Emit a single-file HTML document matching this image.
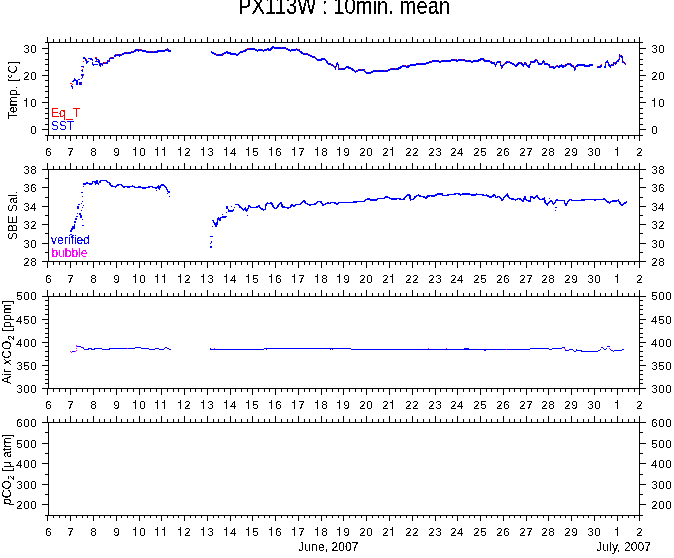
<!DOCTYPE html>
<html><head><meta charset="utf-8"><title>PX113W : 10min. mean</title>
<style>
html,body{margin:0;padding:0;background:#fff}
body{width:674px;height:558px;position:relative;overflow:hidden;font-family:"Liberation Sans",sans-serif;font-size:12px;color:#000}
i{position:absolute;display:block;background:#000}
span{position:absolute;white-space:nowrap;line-height:14px;height:14px}
span.n{font-size:11.5px;letter-spacing:.6px}
span.mo{letter-spacing:.1px}
span.n b{display:inline-block;width:7px;height:9px;vertical-align:baseline;background:linear-gradient(#000,#000) 3px 0/1px 9px no-repeat,linear-gradient(#000,#000) 1px 2px/2px 1px no-repeat}
span.tt{line-height:22px;height:22px;transform:scaleX(.88);transform-origin:0 0}
span.yl{width:200px;letter-spacing:.2px;text-align:center;line-height:16px;height:16px;transform:rotate(-90deg)}
em{font-style:italic}
sub{font-size:9px;vertical-align:-3px;line-height:0}
svg{position:absolute;left:0;top:0}
#tx{position:absolute;left:0;top:0;width:674px;height:558px;filter:url(#t)}
</style></head><body>
<svg width="0" height="0" style="position:absolute"><filter id="t" x="0" y="0" width="100%" height="100%" color-interpolation-filters="sRGB"><feComponentTransfer><feFuncA type="discrete" tableValues="0 0 0 0 0 0 0 0 0 1 1 1 1 1 1 1 1 1 1 1"/></feComponentTransfer></filter></svg>
<div id="tx"><span class="n" style="left:45.25px;top:145px">6</span><span class="n" style="left:67.25px;top:145px">7</span><span class="n" style="left:90.25px;top:145px">8</span><span class="n" style="left:113.25px;top:145px">9</span><span class="n" style="left:132.25px;top:145px"><b></b>0</span><span class="n" style="left:154.25px;top:145px"><b></b><b></b></span><span class="n" style="left:177.25px;top:145px"><b></b>2</span><span class="n" style="left:200.25px;top:145px"><b></b>3</span><span class="n" style="left:223.25px;top:145px"><b></b>4</span><span class="n" style="left:245.25px;top:145px"><b></b>5</span><span class="n" style="left:268.25px;top:145px"><b></b>6</span><span class="n" style="left:291.25px;top:145px"><b></b>7</span><span class="n" style="left:314.25px;top:145px"><b></b>8</span><span class="n" style="left:336.25px;top:145px"><b></b>9</span><span class="n" style="left:359.25px;top:145px">20</span><span class="n" style="left:382.25px;top:145px">2<b></b></span><span class="n" style="left:405.25px;top:145px">22</span><span class="n" style="left:428.25px;top:145px">23</span><span class="n" style="left:450.25px;top:145px">24</span><span class="n" style="left:473.25px;top:145px">25</span><span class="n" style="left:496.25px;top:145px">26</span><span class="n" style="left:519.25px;top:145px">27</span><span class="n" style="left:541.25px;top:145px">28</span><span class="n" style="left:564.25px;top:145px">29</span><span class="n" style="left:587.25px;top:145px">30</span><span class="n" style="left:614.25px;top:145px"><b></b></span><span class="n" style="left:636.25px;top:145px">2</span><span class="n" style="left:23.25px;top:42px">30</span><span class="n" style="left:651.25px;top:42px">30</span><span class="n" style="left:23.25px;top:69px">20</span><span class="n" style="left:651.25px;top:69px">20</span><span class="n" style="left:23.25px;top:96px"><b></b>0</span><span class="n" style="left:651.25px;top:96px"><b></b>0</span><span class="n" style="left:30.25px;top:123px">0</span><span class="n" style="left:651.25px;top:123px">0</span><span class="yl" style="left:-87.6px;top:82.5px;letter-spacing:0.2px;padding-left:1.75px">Temp. [&deg;C]</span><span class="n" style="left:45.25px;top:272px">6</span><span class="n" style="left:67.25px;top:272px">7</span><span class="n" style="left:90.25px;top:272px">8</span><span class="n" style="left:113.25px;top:272px">9</span><span class="n" style="left:132.25px;top:272px"><b></b>0</span><span class="n" style="left:154.25px;top:272px"><b></b><b></b></span><span class="n" style="left:177.25px;top:272px"><b></b>2</span><span class="n" style="left:200.25px;top:272px"><b></b>3</span><span class="n" style="left:223.25px;top:272px"><b></b>4</span><span class="n" style="left:245.25px;top:272px"><b></b>5</span><span class="n" style="left:268.25px;top:272px"><b></b>6</span><span class="n" style="left:291.25px;top:272px"><b></b>7</span><span class="n" style="left:314.25px;top:272px"><b></b>8</span><span class="n" style="left:336.25px;top:272px"><b></b>9</span><span class="n" style="left:359.25px;top:272px">20</span><span class="n" style="left:382.25px;top:272px">2<b></b></span><span class="n" style="left:405.25px;top:272px">22</span><span class="n" style="left:428.25px;top:272px">23</span><span class="n" style="left:450.25px;top:272px">24</span><span class="n" style="left:473.25px;top:272px">25</span><span class="n" style="left:496.25px;top:272px">26</span><span class="n" style="left:519.25px;top:272px">27</span><span class="n" style="left:541.25px;top:272px">28</span><span class="n" style="left:564.25px;top:272px">29</span><span class="n" style="left:587.25px;top:272px">30</span><span class="n" style="left:614.25px;top:272px"><b></b></span><span class="n" style="left:636.25px;top:272px">2</span><span class="n" style="left:23.25px;top:163px">38</span><span class="n" style="left:651.25px;top:163px">38</span><span class="n" style="left:23.25px;top:181px">36</span><span class="n" style="left:651.25px;top:181px">36</span><span class="n" style="left:23.25px;top:200px">34</span><span class="n" style="left:651.25px;top:200px">34</span><span class="n" style="left:23.25px;top:218px">32</span><span class="n" style="left:651.25px;top:218px">32</span><span class="n" style="left:23.25px;top:237px">30</span><span class="n" style="left:651.25px;top:237px">30</span><span class="n" style="left:23.25px;top:255px">28</span><span class="n" style="left:651.25px;top:255px">28</span><span class="yl" style="left:-87.6px;top:208.2px;letter-spacing:0.2px;padding-left:1.5px">SBE Sal.</span><span class="n" style="left:45.25px;top:398px">6</span><span class="n" style="left:67.25px;top:398px">7</span><span class="n" style="left:90.25px;top:398px">8</span><span class="n" style="left:113.25px;top:398px">9</span><span class="n" style="left:132.25px;top:398px"><b></b>0</span><span class="n" style="left:154.25px;top:398px"><b></b><b></b></span><span class="n" style="left:177.25px;top:398px"><b></b>2</span><span class="n" style="left:200.25px;top:398px"><b></b>3</span><span class="n" style="left:223.25px;top:398px"><b></b>4</span><span class="n" style="left:245.25px;top:398px"><b></b>5</span><span class="n" style="left:268.25px;top:398px"><b></b>6</span><span class="n" style="left:291.25px;top:398px"><b></b>7</span><span class="n" style="left:314.25px;top:398px"><b></b>8</span><span class="n" style="left:336.25px;top:398px"><b></b>9</span><span class="n" style="left:359.25px;top:398px">20</span><span class="n" style="left:382.25px;top:398px">2<b></b></span><span class="n" style="left:405.25px;top:398px">22</span><span class="n" style="left:428.25px;top:398px">23</span><span class="n" style="left:450.25px;top:398px">24</span><span class="n" style="left:473.25px;top:398px">25</span><span class="n" style="left:496.25px;top:398px">26</span><span class="n" style="left:519.25px;top:398px">27</span><span class="n" style="left:541.25px;top:398px">28</span><span class="n" style="left:564.25px;top:398px">29</span><span class="n" style="left:587.25px;top:398px">30</span><span class="n" style="left:614.25px;top:398px"><b></b></span><span class="n" style="left:636.25px;top:398px">2</span><span class="n" style="left:16.25px;top:289px">500</span><span class="n" style="left:651.25px;top:289px">500</span><span class="n" style="left:16.25px;top:313px">450</span><span class="n" style="left:651.25px;top:313px">450</span><span class="n" style="left:16.25px;top:336px">400</span><span class="n" style="left:651.25px;top:336px">400</span><span class="n" style="left:16.25px;top:359px">350</span><span class="n" style="left:651.25px;top:359px">350</span><span class="n" style="left:16.25px;top:382px">300</span><span class="n" style="left:651.25px;top:382px">300</span><span class="yl" style="left:-93.8px;top:335.4px;letter-spacing:0.25px;padding-left:1.75px">Air <em>x</em>CO<sub>2</sub> [ppm]</span><span class="n" style="left:45.25px;top:525px">6</span><span class="n" style="left:67.25px;top:525px">7</span><span class="n" style="left:90.25px;top:525px">8</span><span class="n" style="left:113.25px;top:525px">9</span><span class="n" style="left:132.25px;top:525px"><b></b>0</span><span class="n" style="left:154.25px;top:525px"><b></b><b></b></span><span class="n" style="left:177.25px;top:525px"><b></b>2</span><span class="n" style="left:200.25px;top:525px"><b></b>3</span><span class="n" style="left:223.25px;top:525px"><b></b>4</span><span class="n" style="left:245.25px;top:525px"><b></b>5</span><span class="n" style="left:268.25px;top:525px"><b></b>6</span><span class="n" style="left:291.25px;top:525px"><b></b>7</span><span class="n" style="left:314.25px;top:525px"><b></b>8</span><span class="n" style="left:336.25px;top:525px"><b></b>9</span><span class="n" style="left:359.25px;top:525px">20</span><span class="n" style="left:382.25px;top:525px">2<b></b></span><span class="n" style="left:405.25px;top:525px">22</span><span class="n" style="left:428.25px;top:525px">23</span><span class="n" style="left:450.25px;top:525px">24</span><span class="n" style="left:473.25px;top:525px">25</span><span class="n" style="left:496.25px;top:525px">26</span><span class="n" style="left:519.25px;top:525px">27</span><span class="n" style="left:541.25px;top:525px">28</span><span class="n" style="left:564.25px;top:525px">29</span><span class="n" style="left:587.25px;top:525px">30</span><span class="n" style="left:614.25px;top:525px"><b></b></span><span class="n" style="left:636.25px;top:525px">2</span><span class="n" style="left:16.25px;top:416px">600</span><span class="n" style="left:651.25px;top:416px">600</span><span class="n" style="left:16.25px;top:437px">500</span><span class="n" style="left:651.25px;top:437px">500</span><span class="n" style="left:16.25px;top:457px">400</span><span class="n" style="left:651.25px;top:457px">400</span><span class="n" style="left:16.25px;top:478px">300</span><span class="n" style="left:651.25px;top:478px">300</span><span class="n" style="left:16.25px;top:498px">200</span><span class="n" style="left:651.25px;top:498px">200</span><span class="yl" style="left:-93.8px;top:461.6px;letter-spacing:0.1px;padding-left:1.0px"><em>p</em>CO<sub>2</sub> [&mu; atm]</span><span class="tt" style="left:237.6px;font-size:23px;top:-5px">PX113W : 10min. mean</span><span class="mo" style="left:298.25px;top:540px">June, 2007</span><span class="mo" style="left:596.25px;top:540px">July, 2007</span><span style="left:51.05px;color:#f00;top:106px">Eq_T</span><span style="left:51.05px;color:#00f;top:119px">SST</span><span style="left:51.05px;color:#00f;top:233px">verified</span><span style="left:51.5px;color:#f0f;top:246px">bubble</span></div>
<i style="left:48px;top:42px;width:592px;height:1px"></i><i style="left:48px;top:135px;width:592px;height:1px"></i><i style="left:48px;top:42px;width:1px;height:94px"></i><i style="left:639px;top:42px;width:1px;height:94px"></i><i style="left:47px;top:37px;width:1px;height:5px"></i><i style="left:47px;top:136px;width:1px;height:5px"></i><i style="left:53px;top:39px;width:1px;height:3px"></i><i style="left:53px;top:136px;width:1px;height:3px"></i><i style="left:59px;top:39px;width:1px;height:3px"></i><i style="left:59px;top:136px;width:1px;height:3px"></i><i style="left:65px;top:39px;width:1px;height:3px"></i><i style="left:65px;top:136px;width:1px;height:3px"></i><i style="left:70px;top:37px;width:1px;height:5px"></i><i style="left:70px;top:136px;width:1px;height:5px"></i><i style="left:76px;top:39px;width:1px;height:3px"></i><i style="left:76px;top:136px;width:1px;height:3px"></i><i style="left:82px;top:39px;width:1px;height:3px"></i><i style="left:82px;top:136px;width:1px;height:3px"></i><i style="left:87px;top:39px;width:1px;height:3px"></i><i style="left:87px;top:136px;width:1px;height:3px"></i><i style="left:93px;top:37px;width:1px;height:5px"></i><i style="left:93px;top:136px;width:1px;height:5px"></i><i style="left:99px;top:39px;width:1px;height:3px"></i><i style="left:99px;top:136px;width:1px;height:3px"></i><i style="left:104px;top:39px;width:1px;height:3px"></i><i style="left:104px;top:136px;width:1px;height:3px"></i><i style="left:110px;top:39px;width:1px;height:3px"></i><i style="left:110px;top:136px;width:1px;height:3px"></i><i style="left:116px;top:37px;width:1px;height:5px"></i><i style="left:116px;top:136px;width:1px;height:5px"></i><i style="left:121px;top:39px;width:1px;height:3px"></i><i style="left:121px;top:136px;width:1px;height:3px"></i><i style="left:127px;top:39px;width:1px;height:3px"></i><i style="left:127px;top:136px;width:1px;height:3px"></i><i style="left:133px;top:39px;width:1px;height:3px"></i><i style="left:133px;top:136px;width:1px;height:3px"></i><i style="left:139px;top:37px;width:1px;height:5px"></i><i style="left:139px;top:136px;width:1px;height:5px"></i><i style="left:144px;top:39px;width:1px;height:3px"></i><i style="left:144px;top:136px;width:1px;height:3px"></i><i style="left:150px;top:39px;width:1px;height:3px"></i><i style="left:150px;top:136px;width:1px;height:3px"></i><i style="left:156px;top:39px;width:1px;height:3px"></i><i style="left:156px;top:136px;width:1px;height:3px"></i><i style="left:161px;top:37px;width:1px;height:5px"></i><i style="left:161px;top:136px;width:1px;height:5px"></i><i style="left:167px;top:39px;width:1px;height:3px"></i><i style="left:167px;top:136px;width:1px;height:3px"></i><i style="left:173px;top:39px;width:1px;height:3px"></i><i style="left:173px;top:136px;width:1px;height:3px"></i><i style="left:178px;top:39px;width:1px;height:3px"></i><i style="left:178px;top:136px;width:1px;height:3px"></i><i style="left:184px;top:37px;width:1px;height:5px"></i><i style="left:184px;top:136px;width:1px;height:5px"></i><i style="left:190px;top:39px;width:1px;height:3px"></i><i style="left:190px;top:136px;width:1px;height:3px"></i><i style="left:195px;top:39px;width:1px;height:3px"></i><i style="left:195px;top:136px;width:1px;height:3px"></i><i style="left:201px;top:39px;width:1px;height:3px"></i><i style="left:201px;top:136px;width:1px;height:3px"></i><i style="left:207px;top:37px;width:1px;height:5px"></i><i style="left:207px;top:136px;width:1px;height:5px"></i><i style="left:213px;top:39px;width:1px;height:3px"></i><i style="left:213px;top:136px;width:1px;height:3px"></i><i style="left:218px;top:39px;width:1px;height:3px"></i><i style="left:218px;top:136px;width:1px;height:3px"></i><i style="left:224px;top:39px;width:1px;height:3px"></i><i style="left:224px;top:136px;width:1px;height:3px"></i><i style="left:230px;top:37px;width:1px;height:5px"></i><i style="left:230px;top:136px;width:1px;height:5px"></i><i style="left:235px;top:39px;width:1px;height:3px"></i><i style="left:235px;top:136px;width:1px;height:3px"></i><i style="left:241px;top:39px;width:1px;height:3px"></i><i style="left:241px;top:136px;width:1px;height:3px"></i><i style="left:247px;top:39px;width:1px;height:3px"></i><i style="left:247px;top:136px;width:1px;height:3px"></i><i style="left:252px;top:37px;width:1px;height:5px"></i><i style="left:252px;top:136px;width:1px;height:5px"></i><i style="left:258px;top:39px;width:1px;height:3px"></i><i style="left:258px;top:136px;width:1px;height:3px"></i><i style="left:264px;top:39px;width:1px;height:3px"></i><i style="left:264px;top:136px;width:1px;height:3px"></i><i style="left:269px;top:39px;width:1px;height:3px"></i><i style="left:269px;top:136px;width:1px;height:3px"></i><i style="left:275px;top:37px;width:1px;height:5px"></i><i style="left:275px;top:136px;width:1px;height:5px"></i><i style="left:281px;top:39px;width:1px;height:3px"></i><i style="left:281px;top:136px;width:1px;height:3px"></i><i style="left:287px;top:39px;width:1px;height:3px"></i><i style="left:287px;top:136px;width:1px;height:3px"></i><i style="left:292px;top:39px;width:1px;height:3px"></i><i style="left:292px;top:136px;width:1px;height:3px"></i><i style="left:298px;top:37px;width:1px;height:5px"></i><i style="left:298px;top:136px;width:1px;height:5px"></i><i style="left:304px;top:39px;width:1px;height:3px"></i><i style="left:304px;top:136px;width:1px;height:3px"></i><i style="left:309px;top:39px;width:1px;height:3px"></i><i style="left:309px;top:136px;width:1px;height:3px"></i><i style="left:315px;top:39px;width:1px;height:3px"></i><i style="left:315px;top:136px;width:1px;height:3px"></i><i style="left:321px;top:37px;width:1px;height:5px"></i><i style="left:321px;top:136px;width:1px;height:5px"></i><i style="left:326px;top:39px;width:1px;height:3px"></i><i style="left:326px;top:136px;width:1px;height:3px"></i><i style="left:332px;top:39px;width:1px;height:3px"></i><i style="left:332px;top:136px;width:1px;height:3px"></i><i style="left:338px;top:39px;width:1px;height:3px"></i><i style="left:338px;top:136px;width:1px;height:3px"></i><i style="left:343px;top:37px;width:1px;height:5px"></i><i style="left:343px;top:136px;width:1px;height:5px"></i><i style="left:349px;top:39px;width:1px;height:3px"></i><i style="left:349px;top:136px;width:1px;height:3px"></i><i style="left:355px;top:39px;width:1px;height:3px"></i><i style="left:355px;top:136px;width:1px;height:3px"></i><i style="left:361px;top:39px;width:1px;height:3px"></i><i style="left:361px;top:136px;width:1px;height:3px"></i><i style="left:366px;top:37px;width:1px;height:5px"></i><i style="left:366px;top:136px;width:1px;height:5px"></i><i style="left:372px;top:39px;width:1px;height:3px"></i><i style="left:372px;top:136px;width:1px;height:3px"></i><i style="left:378px;top:39px;width:1px;height:3px"></i><i style="left:378px;top:136px;width:1px;height:3px"></i><i style="left:383px;top:39px;width:1px;height:3px"></i><i style="left:383px;top:136px;width:1px;height:3px"></i><i style="left:389px;top:37px;width:1px;height:5px"></i><i style="left:389px;top:136px;width:1px;height:5px"></i><i style="left:395px;top:39px;width:1px;height:3px"></i><i style="left:395px;top:136px;width:1px;height:3px"></i><i style="left:400px;top:39px;width:1px;height:3px"></i><i style="left:400px;top:136px;width:1px;height:3px"></i><i style="left:406px;top:39px;width:1px;height:3px"></i><i style="left:406px;top:136px;width:1px;height:3px"></i><i style="left:412px;top:37px;width:1px;height:5px"></i><i style="left:412px;top:136px;width:1px;height:5px"></i><i style="left:417px;top:39px;width:1px;height:3px"></i><i style="left:417px;top:136px;width:1px;height:3px"></i><i style="left:423px;top:39px;width:1px;height:3px"></i><i style="left:423px;top:136px;width:1px;height:3px"></i><i style="left:429px;top:39px;width:1px;height:3px"></i><i style="left:429px;top:136px;width:1px;height:3px"></i><i style="left:435px;top:37px;width:1px;height:5px"></i><i style="left:435px;top:136px;width:1px;height:5px"></i><i style="left:440px;top:39px;width:1px;height:3px"></i><i style="left:440px;top:136px;width:1px;height:3px"></i><i style="left:446px;top:39px;width:1px;height:3px"></i><i style="left:446px;top:136px;width:1px;height:3px"></i><i style="left:452px;top:39px;width:1px;height:3px"></i><i style="left:452px;top:136px;width:1px;height:3px"></i><i style="left:457px;top:37px;width:1px;height:5px"></i><i style="left:457px;top:136px;width:1px;height:5px"></i><i style="left:463px;top:39px;width:1px;height:3px"></i><i style="left:463px;top:136px;width:1px;height:3px"></i><i style="left:469px;top:39px;width:1px;height:3px"></i><i style="left:469px;top:136px;width:1px;height:3px"></i><i style="left:474px;top:39px;width:1px;height:3px"></i><i style="left:474px;top:136px;width:1px;height:3px"></i><i style="left:480px;top:37px;width:1px;height:5px"></i><i style="left:480px;top:136px;width:1px;height:5px"></i><i style="left:486px;top:39px;width:1px;height:3px"></i><i style="left:486px;top:136px;width:1px;height:3px"></i><i style="left:491px;top:39px;width:1px;height:3px"></i><i style="left:491px;top:136px;width:1px;height:3px"></i><i style="left:497px;top:39px;width:1px;height:3px"></i><i style="left:497px;top:136px;width:1px;height:3px"></i><i style="left:503px;top:37px;width:1px;height:5px"></i><i style="left:503px;top:136px;width:1px;height:5px"></i><i style="left:509px;top:39px;width:1px;height:3px"></i><i style="left:509px;top:136px;width:1px;height:3px"></i><i style="left:514px;top:39px;width:1px;height:3px"></i><i style="left:514px;top:136px;width:1px;height:3px"></i><i style="left:520px;top:39px;width:1px;height:3px"></i><i style="left:520px;top:136px;width:1px;height:3px"></i><i style="left:526px;top:37px;width:1px;height:5px"></i><i style="left:526px;top:136px;width:1px;height:5px"></i><i style="left:531px;top:39px;width:1px;height:3px"></i><i style="left:531px;top:136px;width:1px;height:3px"></i><i style="left:537px;top:39px;width:1px;height:3px"></i><i style="left:537px;top:136px;width:1px;height:3px"></i><i style="left:543px;top:39px;width:1px;height:3px"></i><i style="left:543px;top:136px;width:1px;height:3px"></i><i style="left:548px;top:37px;width:1px;height:5px"></i><i style="left:548px;top:136px;width:1px;height:5px"></i><i style="left:554px;top:39px;width:1px;height:3px"></i><i style="left:554px;top:136px;width:1px;height:3px"></i><i style="left:560px;top:39px;width:1px;height:3px"></i><i style="left:560px;top:136px;width:1px;height:3px"></i><i style="left:565px;top:39px;width:1px;height:3px"></i><i style="left:565px;top:136px;width:1px;height:3px"></i><i style="left:571px;top:37px;width:1px;height:5px"></i><i style="left:571px;top:136px;width:1px;height:5px"></i><i style="left:577px;top:39px;width:1px;height:3px"></i><i style="left:577px;top:136px;width:1px;height:3px"></i><i style="left:583px;top:39px;width:1px;height:3px"></i><i style="left:583px;top:136px;width:1px;height:3px"></i><i style="left:588px;top:39px;width:1px;height:3px"></i><i style="left:588px;top:136px;width:1px;height:3px"></i><i style="left:594px;top:37px;width:1px;height:5px"></i><i style="left:594px;top:136px;width:1px;height:5px"></i><i style="left:600px;top:39px;width:1px;height:3px"></i><i style="left:600px;top:136px;width:1px;height:3px"></i><i style="left:605px;top:39px;width:1px;height:3px"></i><i style="left:605px;top:136px;width:1px;height:3px"></i><i style="left:611px;top:39px;width:1px;height:3px"></i><i style="left:611px;top:136px;width:1px;height:3px"></i><i style="left:617px;top:37px;width:1px;height:5px"></i><i style="left:617px;top:136px;width:1px;height:5px"></i><i style="left:622px;top:39px;width:1px;height:3px"></i><i style="left:622px;top:136px;width:1px;height:3px"></i><i style="left:628px;top:39px;width:1px;height:3px"></i><i style="left:628px;top:136px;width:1px;height:3px"></i><i style="left:634px;top:39px;width:1px;height:3px"></i><i style="left:634px;top:136px;width:1px;height:3px"></i><i style="left:639px;top:37px;width:1px;height:5px"></i><i style="left:639px;top:136px;width:1px;height:5px"></i><i style="left:45px;top:42px;width:3px;height:1px"></i><i style="left:640px;top:42px;width:3px;height:1px"></i><i style="left:42px;top:48px;width:6px;height:1px"></i><i style="left:640px;top:48px;width:6px;height:1px"></i><i style="left:45px;top:53px;width:3px;height:1px"></i><i style="left:640px;top:53px;width:3px;height:1px"></i><i style="left:45px;top:59px;width:3px;height:1px"></i><i style="left:640px;top:59px;width:3px;height:1px"></i><i style="left:45px;top:64px;width:3px;height:1px"></i><i style="left:640px;top:64px;width:3px;height:1px"></i><i style="left:45px;top:70px;width:3px;height:1px"></i><i style="left:640px;top:70px;width:3px;height:1px"></i><i style="left:42px;top:75px;width:6px;height:1px"></i><i style="left:640px;top:75px;width:6px;height:1px"></i><i style="left:45px;top:80px;width:3px;height:1px"></i><i style="left:640px;top:80px;width:3px;height:1px"></i><i style="left:45px;top:86px;width:3px;height:1px"></i><i style="left:640px;top:86px;width:3px;height:1px"></i><i style="left:45px;top:91px;width:3px;height:1px"></i><i style="left:640px;top:91px;width:3px;height:1px"></i><i style="left:45px;top:97px;width:3px;height:1px"></i><i style="left:640px;top:97px;width:3px;height:1px"></i><i style="left:42px;top:102px;width:6px;height:1px"></i><i style="left:640px;top:102px;width:6px;height:1px"></i><i style="left:45px;top:108px;width:3px;height:1px"></i><i style="left:640px;top:108px;width:3px;height:1px"></i><i style="left:45px;top:113px;width:3px;height:1px"></i><i style="left:640px;top:113px;width:3px;height:1px"></i><i style="left:45px;top:118px;width:3px;height:1px"></i><i style="left:640px;top:118px;width:3px;height:1px"></i><i style="left:45px;top:124px;width:3px;height:1px"></i><i style="left:640px;top:124px;width:3px;height:1px"></i><i style="left:42px;top:129px;width:6px;height:1px"></i><i style="left:640px;top:129px;width:6px;height:1px"></i><i style="left:45px;top:135px;width:3px;height:1px"></i><i style="left:640px;top:135px;width:3px;height:1px"></i><i style="left:48px;top:169px;width:592px;height:1px"></i><i style="left:48px;top:261px;width:592px;height:1px"></i><i style="left:48px;top:169px;width:1px;height:93px"></i><i style="left:639px;top:169px;width:1px;height:93px"></i><i style="left:47px;top:163px;width:1px;height:6px"></i><i style="left:47px;top:262px;width:1px;height:6px"></i><i style="left:53px;top:166px;width:1px;height:3px"></i><i style="left:53px;top:262px;width:1px;height:3px"></i><i style="left:59px;top:166px;width:1px;height:3px"></i><i style="left:59px;top:262px;width:1px;height:3px"></i><i style="left:65px;top:166px;width:1px;height:3px"></i><i style="left:65px;top:262px;width:1px;height:3px"></i><i style="left:70px;top:163px;width:1px;height:6px"></i><i style="left:70px;top:262px;width:1px;height:6px"></i><i style="left:76px;top:166px;width:1px;height:3px"></i><i style="left:76px;top:262px;width:1px;height:3px"></i><i style="left:82px;top:166px;width:1px;height:3px"></i><i style="left:82px;top:262px;width:1px;height:3px"></i><i style="left:87px;top:166px;width:1px;height:3px"></i><i style="left:87px;top:262px;width:1px;height:3px"></i><i style="left:93px;top:163px;width:1px;height:6px"></i><i style="left:93px;top:262px;width:1px;height:6px"></i><i style="left:99px;top:166px;width:1px;height:3px"></i><i style="left:99px;top:262px;width:1px;height:3px"></i><i style="left:104px;top:166px;width:1px;height:3px"></i><i style="left:104px;top:262px;width:1px;height:3px"></i><i style="left:110px;top:166px;width:1px;height:3px"></i><i style="left:110px;top:262px;width:1px;height:3px"></i><i style="left:116px;top:163px;width:1px;height:6px"></i><i style="left:116px;top:262px;width:1px;height:6px"></i><i style="left:121px;top:166px;width:1px;height:3px"></i><i style="left:121px;top:262px;width:1px;height:3px"></i><i style="left:127px;top:166px;width:1px;height:3px"></i><i style="left:127px;top:262px;width:1px;height:3px"></i><i style="left:133px;top:166px;width:1px;height:3px"></i><i style="left:133px;top:262px;width:1px;height:3px"></i><i style="left:139px;top:163px;width:1px;height:6px"></i><i style="left:139px;top:262px;width:1px;height:6px"></i><i style="left:144px;top:166px;width:1px;height:3px"></i><i style="left:144px;top:262px;width:1px;height:3px"></i><i style="left:150px;top:166px;width:1px;height:3px"></i><i style="left:150px;top:262px;width:1px;height:3px"></i><i style="left:156px;top:166px;width:1px;height:3px"></i><i style="left:156px;top:262px;width:1px;height:3px"></i><i style="left:161px;top:163px;width:1px;height:6px"></i><i style="left:161px;top:262px;width:1px;height:6px"></i><i style="left:167px;top:166px;width:1px;height:3px"></i><i style="left:167px;top:262px;width:1px;height:3px"></i><i style="left:173px;top:166px;width:1px;height:3px"></i><i style="left:173px;top:262px;width:1px;height:3px"></i><i style="left:178px;top:166px;width:1px;height:3px"></i><i style="left:178px;top:262px;width:1px;height:3px"></i><i style="left:184px;top:163px;width:1px;height:6px"></i><i style="left:184px;top:262px;width:1px;height:6px"></i><i style="left:190px;top:166px;width:1px;height:3px"></i><i style="left:190px;top:262px;width:1px;height:3px"></i><i style="left:195px;top:166px;width:1px;height:3px"></i><i style="left:195px;top:262px;width:1px;height:3px"></i><i style="left:201px;top:166px;width:1px;height:3px"></i><i style="left:201px;top:262px;width:1px;height:3px"></i><i style="left:207px;top:163px;width:1px;height:6px"></i><i style="left:207px;top:262px;width:1px;height:6px"></i><i style="left:213px;top:166px;width:1px;height:3px"></i><i style="left:213px;top:262px;width:1px;height:3px"></i><i style="left:218px;top:166px;width:1px;height:3px"></i><i style="left:218px;top:262px;width:1px;height:3px"></i><i style="left:224px;top:166px;width:1px;height:3px"></i><i style="left:224px;top:262px;width:1px;height:3px"></i><i style="left:230px;top:163px;width:1px;height:6px"></i><i style="left:230px;top:262px;width:1px;height:6px"></i><i style="left:235px;top:166px;width:1px;height:3px"></i><i style="left:235px;top:262px;width:1px;height:3px"></i><i style="left:241px;top:166px;width:1px;height:3px"></i><i style="left:241px;top:262px;width:1px;height:3px"></i><i style="left:247px;top:166px;width:1px;height:3px"></i><i style="left:247px;top:262px;width:1px;height:3px"></i><i style="left:252px;top:163px;width:1px;height:6px"></i><i style="left:252px;top:262px;width:1px;height:6px"></i><i style="left:258px;top:166px;width:1px;height:3px"></i><i style="left:258px;top:262px;width:1px;height:3px"></i><i style="left:264px;top:166px;width:1px;height:3px"></i><i style="left:264px;top:262px;width:1px;height:3px"></i><i style="left:269px;top:166px;width:1px;height:3px"></i><i style="left:269px;top:262px;width:1px;height:3px"></i><i style="left:275px;top:163px;width:1px;height:6px"></i><i style="left:275px;top:262px;width:1px;height:6px"></i><i style="left:281px;top:166px;width:1px;height:3px"></i><i style="left:281px;top:262px;width:1px;height:3px"></i><i style="left:287px;top:166px;width:1px;height:3px"></i><i style="left:287px;top:262px;width:1px;height:3px"></i><i style="left:292px;top:166px;width:1px;height:3px"></i><i style="left:292px;top:262px;width:1px;height:3px"></i><i style="left:298px;top:163px;width:1px;height:6px"></i><i style="left:298px;top:262px;width:1px;height:6px"></i><i style="left:304px;top:166px;width:1px;height:3px"></i><i style="left:304px;top:262px;width:1px;height:3px"></i><i style="left:309px;top:166px;width:1px;height:3px"></i><i style="left:309px;top:262px;width:1px;height:3px"></i><i style="left:315px;top:166px;width:1px;height:3px"></i><i style="left:315px;top:262px;width:1px;height:3px"></i><i style="left:321px;top:163px;width:1px;height:6px"></i><i style="left:321px;top:262px;width:1px;height:6px"></i><i style="left:326px;top:166px;width:1px;height:3px"></i><i style="left:326px;top:262px;width:1px;height:3px"></i><i style="left:332px;top:166px;width:1px;height:3px"></i><i style="left:332px;top:262px;width:1px;height:3px"></i><i style="left:338px;top:166px;width:1px;height:3px"></i><i style="left:338px;top:262px;width:1px;height:3px"></i><i style="left:343px;top:163px;width:1px;height:6px"></i><i style="left:343px;top:262px;width:1px;height:6px"></i><i style="left:349px;top:166px;width:1px;height:3px"></i><i style="left:349px;top:262px;width:1px;height:3px"></i><i style="left:355px;top:166px;width:1px;height:3px"></i><i style="left:355px;top:262px;width:1px;height:3px"></i><i style="left:361px;top:166px;width:1px;height:3px"></i><i style="left:361px;top:262px;width:1px;height:3px"></i><i style="left:366px;top:163px;width:1px;height:6px"></i><i style="left:366px;top:262px;width:1px;height:6px"></i><i style="left:372px;top:166px;width:1px;height:3px"></i><i style="left:372px;top:262px;width:1px;height:3px"></i><i style="left:378px;top:166px;width:1px;height:3px"></i><i style="left:378px;top:262px;width:1px;height:3px"></i><i style="left:383px;top:166px;width:1px;height:3px"></i><i style="left:383px;top:262px;width:1px;height:3px"></i><i style="left:389px;top:163px;width:1px;height:6px"></i><i style="left:389px;top:262px;width:1px;height:6px"></i><i style="left:395px;top:166px;width:1px;height:3px"></i><i style="left:395px;top:262px;width:1px;height:3px"></i><i style="left:400px;top:166px;width:1px;height:3px"></i><i style="left:400px;top:262px;width:1px;height:3px"></i><i style="left:406px;top:166px;width:1px;height:3px"></i><i style="left:406px;top:262px;width:1px;height:3px"></i><i style="left:412px;top:163px;width:1px;height:6px"></i><i style="left:412px;top:262px;width:1px;height:6px"></i><i style="left:417px;top:166px;width:1px;height:3px"></i><i style="left:417px;top:262px;width:1px;height:3px"></i><i style="left:423px;top:166px;width:1px;height:3px"></i><i style="left:423px;top:262px;width:1px;height:3px"></i><i style="left:429px;top:166px;width:1px;height:3px"></i><i style="left:429px;top:262px;width:1px;height:3px"></i><i style="left:435px;top:163px;width:1px;height:6px"></i><i style="left:435px;top:262px;width:1px;height:6px"></i><i style="left:440px;top:166px;width:1px;height:3px"></i><i style="left:440px;top:262px;width:1px;height:3px"></i><i style="left:446px;top:166px;width:1px;height:3px"></i><i style="left:446px;top:262px;width:1px;height:3px"></i><i style="left:452px;top:166px;width:1px;height:3px"></i><i style="left:452px;top:262px;width:1px;height:3px"></i><i style="left:457px;top:163px;width:1px;height:6px"></i><i style="left:457px;top:262px;width:1px;height:6px"></i><i style="left:463px;top:166px;width:1px;height:3px"></i><i style="left:463px;top:262px;width:1px;height:3px"></i><i style="left:469px;top:166px;width:1px;height:3px"></i><i style="left:469px;top:262px;width:1px;height:3px"></i><i style="left:474px;top:166px;width:1px;height:3px"></i><i style="left:474px;top:262px;width:1px;height:3px"></i><i style="left:480px;top:163px;width:1px;height:6px"></i><i style="left:480px;top:262px;width:1px;height:6px"></i><i style="left:486px;top:166px;width:1px;height:3px"></i><i style="left:486px;top:262px;width:1px;height:3px"></i><i style="left:491px;top:166px;width:1px;height:3px"></i><i style="left:491px;top:262px;width:1px;height:3px"></i><i style="left:497px;top:166px;width:1px;height:3px"></i><i style="left:497px;top:262px;width:1px;height:3px"></i><i style="left:503px;top:163px;width:1px;height:6px"></i><i style="left:503px;top:262px;width:1px;height:6px"></i><i style="left:509px;top:166px;width:1px;height:3px"></i><i style="left:509px;top:262px;width:1px;height:3px"></i><i style="left:514px;top:166px;width:1px;height:3px"></i><i style="left:514px;top:262px;width:1px;height:3px"></i><i style="left:520px;top:166px;width:1px;height:3px"></i><i style="left:520px;top:262px;width:1px;height:3px"></i><i style="left:526px;top:163px;width:1px;height:6px"></i><i style="left:526px;top:262px;width:1px;height:6px"></i><i style="left:531px;top:166px;width:1px;height:3px"></i><i style="left:531px;top:262px;width:1px;height:3px"></i><i style="left:537px;top:166px;width:1px;height:3px"></i><i style="left:537px;top:262px;width:1px;height:3px"></i><i style="left:543px;top:166px;width:1px;height:3px"></i><i style="left:543px;top:262px;width:1px;height:3px"></i><i style="left:548px;top:163px;width:1px;height:6px"></i><i style="left:548px;top:262px;width:1px;height:6px"></i><i style="left:554px;top:166px;width:1px;height:3px"></i><i style="left:554px;top:262px;width:1px;height:3px"></i><i style="left:560px;top:166px;width:1px;height:3px"></i><i style="left:560px;top:262px;width:1px;height:3px"></i><i style="left:565px;top:166px;width:1px;height:3px"></i><i style="left:565px;top:262px;width:1px;height:3px"></i><i style="left:571px;top:163px;width:1px;height:6px"></i><i style="left:571px;top:262px;width:1px;height:6px"></i><i style="left:577px;top:166px;width:1px;height:3px"></i><i style="left:577px;top:262px;width:1px;height:3px"></i><i style="left:583px;top:166px;width:1px;height:3px"></i><i style="left:583px;top:262px;width:1px;height:3px"></i><i style="left:588px;top:166px;width:1px;height:3px"></i><i style="left:588px;top:262px;width:1px;height:3px"></i><i style="left:594px;top:163px;width:1px;height:6px"></i><i style="left:594px;top:262px;width:1px;height:6px"></i><i style="left:600px;top:166px;width:1px;height:3px"></i><i style="left:600px;top:262px;width:1px;height:3px"></i><i style="left:605px;top:166px;width:1px;height:3px"></i><i style="left:605px;top:262px;width:1px;height:3px"></i><i style="left:611px;top:166px;width:1px;height:3px"></i><i style="left:611px;top:262px;width:1px;height:3px"></i><i style="left:617px;top:163px;width:1px;height:6px"></i><i style="left:617px;top:262px;width:1px;height:6px"></i><i style="left:622px;top:166px;width:1px;height:3px"></i><i style="left:622px;top:262px;width:1px;height:3px"></i><i style="left:628px;top:166px;width:1px;height:3px"></i><i style="left:628px;top:262px;width:1px;height:3px"></i><i style="left:634px;top:166px;width:1px;height:3px"></i><i style="left:634px;top:262px;width:1px;height:3px"></i><i style="left:639px;top:163px;width:1px;height:6px"></i><i style="left:639px;top:262px;width:1px;height:6px"></i><i style="left:42px;top:169px;width:6px;height:1px"></i><i style="left:640px;top:169px;width:6px;height:1px"></i><i style="left:45px;top:178px;width:3px;height:1px"></i><i style="left:640px;top:178px;width:3px;height:1px"></i><i style="left:42px;top:187px;width:6px;height:1px"></i><i style="left:640px;top:187px;width:6px;height:1px"></i><i style="left:45px;top:197px;width:3px;height:1px"></i><i style="left:640px;top:197px;width:3px;height:1px"></i><i style="left:42px;top:206px;width:6px;height:1px"></i><i style="left:640px;top:206px;width:6px;height:1px"></i><i style="left:45px;top:215px;width:3px;height:1px"></i><i style="left:640px;top:215px;width:3px;height:1px"></i><i style="left:42px;top:224px;width:6px;height:1px"></i><i style="left:640px;top:224px;width:6px;height:1px"></i><i style="left:45px;top:233px;width:3px;height:1px"></i><i style="left:640px;top:233px;width:3px;height:1px"></i><i style="left:42px;top:243px;width:6px;height:1px"></i><i style="left:640px;top:243px;width:6px;height:1px"></i><i style="left:45px;top:252px;width:3px;height:1px"></i><i style="left:640px;top:252px;width:3px;height:1px"></i><i style="left:42px;top:261px;width:6px;height:1px"></i><i style="left:640px;top:261px;width:6px;height:1px"></i><i style="left:48px;top:296px;width:592px;height:1px"></i><i style="left:48px;top:388px;width:592px;height:1px"></i><i style="left:48px;top:296px;width:1px;height:93px"></i><i style="left:639px;top:296px;width:1px;height:93px"></i><i style="left:47px;top:290px;width:1px;height:6px"></i><i style="left:47px;top:389px;width:1px;height:6px"></i><i style="left:53px;top:293px;width:1px;height:3px"></i><i style="left:53px;top:389px;width:1px;height:3px"></i><i style="left:59px;top:293px;width:1px;height:3px"></i><i style="left:59px;top:389px;width:1px;height:3px"></i><i style="left:65px;top:293px;width:1px;height:3px"></i><i style="left:65px;top:389px;width:1px;height:3px"></i><i style="left:70px;top:290px;width:1px;height:6px"></i><i style="left:70px;top:389px;width:1px;height:6px"></i><i style="left:76px;top:293px;width:1px;height:3px"></i><i style="left:76px;top:389px;width:1px;height:3px"></i><i style="left:82px;top:293px;width:1px;height:3px"></i><i style="left:82px;top:389px;width:1px;height:3px"></i><i style="left:87px;top:293px;width:1px;height:3px"></i><i style="left:87px;top:389px;width:1px;height:3px"></i><i style="left:93px;top:290px;width:1px;height:6px"></i><i style="left:93px;top:389px;width:1px;height:6px"></i><i style="left:99px;top:293px;width:1px;height:3px"></i><i style="left:99px;top:389px;width:1px;height:3px"></i><i style="left:104px;top:293px;width:1px;height:3px"></i><i style="left:104px;top:389px;width:1px;height:3px"></i><i style="left:110px;top:293px;width:1px;height:3px"></i><i style="left:110px;top:389px;width:1px;height:3px"></i><i style="left:116px;top:290px;width:1px;height:6px"></i><i style="left:116px;top:389px;width:1px;height:6px"></i><i style="left:121px;top:293px;width:1px;height:3px"></i><i style="left:121px;top:389px;width:1px;height:3px"></i><i style="left:127px;top:293px;width:1px;height:3px"></i><i style="left:127px;top:389px;width:1px;height:3px"></i><i style="left:133px;top:293px;width:1px;height:3px"></i><i style="left:133px;top:389px;width:1px;height:3px"></i><i style="left:139px;top:290px;width:1px;height:6px"></i><i style="left:139px;top:389px;width:1px;height:6px"></i><i style="left:144px;top:293px;width:1px;height:3px"></i><i style="left:144px;top:389px;width:1px;height:3px"></i><i style="left:150px;top:293px;width:1px;height:3px"></i><i style="left:150px;top:389px;width:1px;height:3px"></i><i style="left:156px;top:293px;width:1px;height:3px"></i><i style="left:156px;top:389px;width:1px;height:3px"></i><i style="left:161px;top:290px;width:1px;height:6px"></i><i style="left:161px;top:389px;width:1px;height:6px"></i><i style="left:167px;top:293px;width:1px;height:3px"></i><i style="left:167px;top:389px;width:1px;height:3px"></i><i style="left:173px;top:293px;width:1px;height:3px"></i><i style="left:173px;top:389px;width:1px;height:3px"></i><i style="left:178px;top:293px;width:1px;height:3px"></i><i style="left:178px;top:389px;width:1px;height:3px"></i><i style="left:184px;top:290px;width:1px;height:6px"></i><i style="left:184px;top:389px;width:1px;height:6px"></i><i style="left:190px;top:293px;width:1px;height:3px"></i><i style="left:190px;top:389px;width:1px;height:3px"></i><i style="left:195px;top:293px;width:1px;height:3px"></i><i style="left:195px;top:389px;width:1px;height:3px"></i><i style="left:201px;top:293px;width:1px;height:3px"></i><i style="left:201px;top:389px;width:1px;height:3px"></i><i style="left:207px;top:290px;width:1px;height:6px"></i><i style="left:207px;top:389px;width:1px;height:6px"></i><i style="left:213px;top:293px;width:1px;height:3px"></i><i style="left:213px;top:389px;width:1px;height:3px"></i><i style="left:218px;top:293px;width:1px;height:3px"></i><i style="left:218px;top:389px;width:1px;height:3px"></i><i style="left:224px;top:293px;width:1px;height:3px"></i><i style="left:224px;top:389px;width:1px;height:3px"></i><i style="left:230px;top:290px;width:1px;height:6px"></i><i style="left:230px;top:389px;width:1px;height:6px"></i><i style="left:235px;top:293px;width:1px;height:3px"></i><i style="left:235px;top:389px;width:1px;height:3px"></i><i style="left:241px;top:293px;width:1px;height:3px"></i><i style="left:241px;top:389px;width:1px;height:3px"></i><i style="left:247px;top:293px;width:1px;height:3px"></i><i style="left:247px;top:389px;width:1px;height:3px"></i><i style="left:252px;top:290px;width:1px;height:6px"></i><i style="left:252px;top:389px;width:1px;height:6px"></i><i style="left:258px;top:293px;width:1px;height:3px"></i><i style="left:258px;top:389px;width:1px;height:3px"></i><i style="left:264px;top:293px;width:1px;height:3px"></i><i style="left:264px;top:389px;width:1px;height:3px"></i><i style="left:269px;top:293px;width:1px;height:3px"></i><i style="left:269px;top:389px;width:1px;height:3px"></i><i style="left:275px;top:290px;width:1px;height:6px"></i><i style="left:275px;top:389px;width:1px;height:6px"></i><i style="left:281px;top:293px;width:1px;height:3px"></i><i style="left:281px;top:389px;width:1px;height:3px"></i><i style="left:287px;top:293px;width:1px;height:3px"></i><i style="left:287px;top:389px;width:1px;height:3px"></i><i style="left:292px;top:293px;width:1px;height:3px"></i><i style="left:292px;top:389px;width:1px;height:3px"></i><i style="left:298px;top:290px;width:1px;height:6px"></i><i style="left:298px;top:389px;width:1px;height:6px"></i><i style="left:304px;top:293px;width:1px;height:3px"></i><i style="left:304px;top:389px;width:1px;height:3px"></i><i style="left:309px;top:293px;width:1px;height:3px"></i><i style="left:309px;top:389px;width:1px;height:3px"></i><i style="left:315px;top:293px;width:1px;height:3px"></i><i style="left:315px;top:389px;width:1px;height:3px"></i><i style="left:321px;top:290px;width:1px;height:6px"></i><i style="left:321px;top:389px;width:1px;height:6px"></i><i style="left:326px;top:293px;width:1px;height:3px"></i><i style="left:326px;top:389px;width:1px;height:3px"></i><i style="left:332px;top:293px;width:1px;height:3px"></i><i style="left:332px;top:389px;width:1px;height:3px"></i><i style="left:338px;top:293px;width:1px;height:3px"></i><i style="left:338px;top:389px;width:1px;height:3px"></i><i style="left:343px;top:290px;width:1px;height:6px"></i><i style="left:343px;top:389px;width:1px;height:6px"></i><i style="left:349px;top:293px;width:1px;height:3px"></i><i style="left:349px;top:389px;width:1px;height:3px"></i><i style="left:355px;top:293px;width:1px;height:3px"></i><i style="left:355px;top:389px;width:1px;height:3px"></i><i style="left:361px;top:293px;width:1px;height:3px"></i><i style="left:361px;top:389px;width:1px;height:3px"></i><i style="left:366px;top:290px;width:1px;height:6px"></i><i style="left:366px;top:389px;width:1px;height:6px"></i><i style="left:372px;top:293px;width:1px;height:3px"></i><i style="left:372px;top:389px;width:1px;height:3px"></i><i style="left:378px;top:293px;width:1px;height:3px"></i><i style="left:378px;top:389px;width:1px;height:3px"></i><i style="left:383px;top:293px;width:1px;height:3px"></i><i style="left:383px;top:389px;width:1px;height:3px"></i><i style="left:389px;top:290px;width:1px;height:6px"></i><i style="left:389px;top:389px;width:1px;height:6px"></i><i style="left:395px;top:293px;width:1px;height:3px"></i><i style="left:395px;top:389px;width:1px;height:3px"></i><i style="left:400px;top:293px;width:1px;height:3px"></i><i style="left:400px;top:389px;width:1px;height:3px"></i><i style="left:406px;top:293px;width:1px;height:3px"></i><i style="left:406px;top:389px;width:1px;height:3px"></i><i style="left:412px;top:290px;width:1px;height:6px"></i><i style="left:412px;top:389px;width:1px;height:6px"></i><i style="left:417px;top:293px;width:1px;height:3px"></i><i style="left:417px;top:389px;width:1px;height:3px"></i><i style="left:423px;top:293px;width:1px;height:3px"></i><i style="left:423px;top:389px;width:1px;height:3px"></i><i style="left:429px;top:293px;width:1px;height:3px"></i><i style="left:429px;top:389px;width:1px;height:3px"></i><i style="left:435px;top:290px;width:1px;height:6px"></i><i style="left:435px;top:389px;width:1px;height:6px"></i><i style="left:440px;top:293px;width:1px;height:3px"></i><i style="left:440px;top:389px;width:1px;height:3px"></i><i style="left:446px;top:293px;width:1px;height:3px"></i><i style="left:446px;top:389px;width:1px;height:3px"></i><i style="left:452px;top:293px;width:1px;height:3px"></i><i style="left:452px;top:389px;width:1px;height:3px"></i><i style="left:457px;top:290px;width:1px;height:6px"></i><i style="left:457px;top:389px;width:1px;height:6px"></i><i style="left:463px;top:293px;width:1px;height:3px"></i><i style="left:463px;top:389px;width:1px;height:3px"></i><i style="left:469px;top:293px;width:1px;height:3px"></i><i style="left:469px;top:389px;width:1px;height:3px"></i><i style="left:474px;top:293px;width:1px;height:3px"></i><i style="left:474px;top:389px;width:1px;height:3px"></i><i style="left:480px;top:290px;width:1px;height:6px"></i><i style="left:480px;top:389px;width:1px;height:6px"></i><i style="left:486px;top:293px;width:1px;height:3px"></i><i style="left:486px;top:389px;width:1px;height:3px"></i><i style="left:491px;top:293px;width:1px;height:3px"></i><i style="left:491px;top:389px;width:1px;height:3px"></i><i style="left:497px;top:293px;width:1px;height:3px"></i><i style="left:497px;top:389px;width:1px;height:3px"></i><i style="left:503px;top:290px;width:1px;height:6px"></i><i style="left:503px;top:389px;width:1px;height:6px"></i><i style="left:509px;top:293px;width:1px;height:3px"></i><i style="left:509px;top:389px;width:1px;height:3px"></i><i style="left:514px;top:293px;width:1px;height:3px"></i><i style="left:514px;top:389px;width:1px;height:3px"></i><i style="left:520px;top:293px;width:1px;height:3px"></i><i style="left:520px;top:389px;width:1px;height:3px"></i><i style="left:526px;top:290px;width:1px;height:6px"></i><i style="left:526px;top:389px;width:1px;height:6px"></i><i style="left:531px;top:293px;width:1px;height:3px"></i><i style="left:531px;top:389px;width:1px;height:3px"></i><i style="left:537px;top:293px;width:1px;height:3px"></i><i style="left:537px;top:389px;width:1px;height:3px"></i><i style="left:543px;top:293px;width:1px;height:3px"></i><i style="left:543px;top:389px;width:1px;height:3px"></i><i style="left:548px;top:290px;width:1px;height:6px"></i><i style="left:548px;top:389px;width:1px;height:6px"></i><i style="left:554px;top:293px;width:1px;height:3px"></i><i style="left:554px;top:389px;width:1px;height:3px"></i><i style="left:560px;top:293px;width:1px;height:3px"></i><i style="left:560px;top:389px;width:1px;height:3px"></i><i style="left:565px;top:293px;width:1px;height:3px"></i><i style="left:565px;top:389px;width:1px;height:3px"></i><i style="left:571px;top:290px;width:1px;height:6px"></i><i style="left:571px;top:389px;width:1px;height:6px"></i><i style="left:577px;top:293px;width:1px;height:3px"></i><i style="left:577px;top:389px;width:1px;height:3px"></i><i style="left:583px;top:293px;width:1px;height:3px"></i><i style="left:583px;top:389px;width:1px;height:3px"></i><i style="left:588px;top:293px;width:1px;height:3px"></i><i style="left:588px;top:389px;width:1px;height:3px"></i><i style="left:594px;top:290px;width:1px;height:6px"></i><i style="left:594px;top:389px;width:1px;height:6px"></i><i style="left:600px;top:293px;width:1px;height:3px"></i><i style="left:600px;top:389px;width:1px;height:3px"></i><i style="left:605px;top:293px;width:1px;height:3px"></i><i style="left:605px;top:389px;width:1px;height:3px"></i><i style="left:611px;top:293px;width:1px;height:3px"></i><i style="left:611px;top:389px;width:1px;height:3px"></i><i style="left:617px;top:290px;width:1px;height:6px"></i><i style="left:617px;top:389px;width:1px;height:6px"></i><i style="left:622px;top:293px;width:1px;height:3px"></i><i style="left:622px;top:389px;width:1px;height:3px"></i><i style="left:628px;top:293px;width:1px;height:3px"></i><i style="left:628px;top:389px;width:1px;height:3px"></i><i style="left:634px;top:293px;width:1px;height:3px"></i><i style="left:634px;top:389px;width:1px;height:3px"></i><i style="left:639px;top:290px;width:1px;height:6px"></i><i style="left:639px;top:389px;width:1px;height:6px"></i><i style="left:42px;top:296px;width:6px;height:1px"></i><i style="left:640px;top:296px;width:6px;height:1px"></i><i style="left:45px;top:300px;width:3px;height:1px"></i><i style="left:640px;top:300px;width:3px;height:1px"></i><i style="left:45px;top:305px;width:3px;height:1px"></i><i style="left:640px;top:305px;width:3px;height:1px"></i><i style="left:45px;top:309px;width:3px;height:1px"></i><i style="left:640px;top:309px;width:3px;height:1px"></i><i style="left:45px;top:314px;width:3px;height:1px"></i><i style="left:640px;top:314px;width:3px;height:1px"></i><i style="left:42px;top:319px;width:6px;height:1px"></i><i style="left:640px;top:319px;width:6px;height:1px"></i><i style="left:45px;top:323px;width:3px;height:1px"></i><i style="left:640px;top:323px;width:3px;height:1px"></i><i style="left:45px;top:328px;width:3px;height:1px"></i><i style="left:640px;top:328px;width:3px;height:1px"></i><i style="left:45px;top:333px;width:3px;height:1px"></i><i style="left:640px;top:333px;width:3px;height:1px"></i><i style="left:45px;top:337px;width:3px;height:1px"></i><i style="left:640px;top:337px;width:3px;height:1px"></i><i style="left:42px;top:342px;width:6px;height:1px"></i><i style="left:640px;top:342px;width:6px;height:1px"></i><i style="left:45px;top:346px;width:3px;height:1px"></i><i style="left:640px;top:346px;width:3px;height:1px"></i><i style="left:45px;top:351px;width:3px;height:1px"></i><i style="left:640px;top:351px;width:3px;height:1px"></i><i style="left:45px;top:356px;width:3px;height:1px"></i><i style="left:640px;top:356px;width:3px;height:1px"></i><i style="left:45px;top:360px;width:3px;height:1px"></i><i style="left:640px;top:360px;width:3px;height:1px"></i><i style="left:42px;top:365px;width:6px;height:1px"></i><i style="left:640px;top:365px;width:6px;height:1px"></i><i style="left:45px;top:370px;width:3px;height:1px"></i><i style="left:640px;top:370px;width:3px;height:1px"></i><i style="left:45px;top:374px;width:3px;height:1px"></i><i style="left:640px;top:374px;width:3px;height:1px"></i><i style="left:45px;top:379px;width:3px;height:1px"></i><i style="left:640px;top:379px;width:3px;height:1px"></i><i style="left:45px;top:383px;width:3px;height:1px"></i><i style="left:640px;top:383px;width:3px;height:1px"></i><i style="left:42px;top:388px;width:6px;height:1px"></i><i style="left:640px;top:388px;width:6px;height:1px"></i><i style="left:48px;top:422px;width:592px;height:1px"></i><i style="left:48px;top:515px;width:592px;height:1px"></i><i style="left:48px;top:422px;width:1px;height:94px"></i><i style="left:639px;top:422px;width:1px;height:94px"></i><i style="left:47px;top:416px;width:1px;height:6px"></i><i style="left:47px;top:516px;width:1px;height:5px"></i><i style="left:53px;top:419px;width:1px;height:3px"></i><i style="left:53px;top:516px;width:1px;height:2px"></i><i style="left:59px;top:419px;width:1px;height:3px"></i><i style="left:59px;top:516px;width:1px;height:2px"></i><i style="left:65px;top:419px;width:1px;height:3px"></i><i style="left:65px;top:516px;width:1px;height:2px"></i><i style="left:70px;top:416px;width:1px;height:6px"></i><i style="left:70px;top:516px;width:1px;height:5px"></i><i style="left:76px;top:419px;width:1px;height:3px"></i><i style="left:76px;top:516px;width:1px;height:2px"></i><i style="left:82px;top:419px;width:1px;height:3px"></i><i style="left:82px;top:516px;width:1px;height:2px"></i><i style="left:87px;top:419px;width:1px;height:3px"></i><i style="left:87px;top:516px;width:1px;height:2px"></i><i style="left:93px;top:416px;width:1px;height:6px"></i><i style="left:93px;top:516px;width:1px;height:5px"></i><i style="left:99px;top:419px;width:1px;height:3px"></i><i style="left:99px;top:516px;width:1px;height:2px"></i><i style="left:104px;top:419px;width:1px;height:3px"></i><i style="left:104px;top:516px;width:1px;height:2px"></i><i style="left:110px;top:419px;width:1px;height:3px"></i><i style="left:110px;top:516px;width:1px;height:2px"></i><i style="left:116px;top:416px;width:1px;height:6px"></i><i style="left:116px;top:516px;width:1px;height:5px"></i><i style="left:121px;top:419px;width:1px;height:3px"></i><i style="left:121px;top:516px;width:1px;height:2px"></i><i style="left:127px;top:419px;width:1px;height:3px"></i><i style="left:127px;top:516px;width:1px;height:2px"></i><i style="left:133px;top:419px;width:1px;height:3px"></i><i style="left:133px;top:516px;width:1px;height:2px"></i><i style="left:139px;top:416px;width:1px;height:6px"></i><i style="left:139px;top:516px;width:1px;height:5px"></i><i style="left:144px;top:419px;width:1px;height:3px"></i><i style="left:144px;top:516px;width:1px;height:2px"></i><i style="left:150px;top:419px;width:1px;height:3px"></i><i style="left:150px;top:516px;width:1px;height:2px"></i><i style="left:156px;top:419px;width:1px;height:3px"></i><i style="left:156px;top:516px;width:1px;height:2px"></i><i style="left:161px;top:416px;width:1px;height:6px"></i><i style="left:161px;top:516px;width:1px;height:5px"></i><i style="left:167px;top:419px;width:1px;height:3px"></i><i style="left:167px;top:516px;width:1px;height:2px"></i><i style="left:173px;top:419px;width:1px;height:3px"></i><i style="left:173px;top:516px;width:1px;height:2px"></i><i style="left:178px;top:419px;width:1px;height:3px"></i><i style="left:178px;top:516px;width:1px;height:2px"></i><i style="left:184px;top:416px;width:1px;height:6px"></i><i style="left:184px;top:516px;width:1px;height:5px"></i><i style="left:190px;top:419px;width:1px;height:3px"></i><i style="left:190px;top:516px;width:1px;height:2px"></i><i style="left:195px;top:419px;width:1px;height:3px"></i><i style="left:195px;top:516px;width:1px;height:2px"></i><i style="left:201px;top:419px;width:1px;height:3px"></i><i style="left:201px;top:516px;width:1px;height:2px"></i><i style="left:207px;top:416px;width:1px;height:6px"></i><i style="left:207px;top:516px;width:1px;height:5px"></i><i style="left:213px;top:419px;width:1px;height:3px"></i><i style="left:213px;top:516px;width:1px;height:2px"></i><i style="left:218px;top:419px;width:1px;height:3px"></i><i style="left:218px;top:516px;width:1px;height:2px"></i><i style="left:224px;top:419px;width:1px;height:3px"></i><i style="left:224px;top:516px;width:1px;height:2px"></i><i style="left:230px;top:416px;width:1px;height:6px"></i><i style="left:230px;top:516px;width:1px;height:5px"></i><i style="left:235px;top:419px;width:1px;height:3px"></i><i style="left:235px;top:516px;width:1px;height:2px"></i><i style="left:241px;top:419px;width:1px;height:3px"></i><i style="left:241px;top:516px;width:1px;height:2px"></i><i style="left:247px;top:419px;width:1px;height:3px"></i><i style="left:247px;top:516px;width:1px;height:2px"></i><i style="left:252px;top:416px;width:1px;height:6px"></i><i style="left:252px;top:516px;width:1px;height:5px"></i><i style="left:258px;top:419px;width:1px;height:3px"></i><i style="left:258px;top:516px;width:1px;height:2px"></i><i style="left:264px;top:419px;width:1px;height:3px"></i><i style="left:264px;top:516px;width:1px;height:2px"></i><i style="left:269px;top:419px;width:1px;height:3px"></i><i style="left:269px;top:516px;width:1px;height:2px"></i><i style="left:275px;top:416px;width:1px;height:6px"></i><i style="left:275px;top:516px;width:1px;height:5px"></i><i style="left:281px;top:419px;width:1px;height:3px"></i><i style="left:281px;top:516px;width:1px;height:2px"></i><i style="left:287px;top:419px;width:1px;height:3px"></i><i style="left:287px;top:516px;width:1px;height:2px"></i><i style="left:292px;top:419px;width:1px;height:3px"></i><i style="left:292px;top:516px;width:1px;height:2px"></i><i style="left:298px;top:416px;width:1px;height:6px"></i><i style="left:298px;top:516px;width:1px;height:5px"></i><i style="left:304px;top:419px;width:1px;height:3px"></i><i style="left:304px;top:516px;width:1px;height:2px"></i><i style="left:309px;top:419px;width:1px;height:3px"></i><i style="left:309px;top:516px;width:1px;height:2px"></i><i style="left:315px;top:419px;width:1px;height:3px"></i><i style="left:315px;top:516px;width:1px;height:2px"></i><i style="left:321px;top:416px;width:1px;height:6px"></i><i style="left:321px;top:516px;width:1px;height:5px"></i><i style="left:326px;top:419px;width:1px;height:3px"></i><i style="left:326px;top:516px;width:1px;height:2px"></i><i style="left:332px;top:419px;width:1px;height:3px"></i><i style="left:332px;top:516px;width:1px;height:2px"></i><i style="left:338px;top:419px;width:1px;height:3px"></i><i style="left:338px;top:516px;width:1px;height:2px"></i><i style="left:343px;top:416px;width:1px;height:6px"></i><i style="left:343px;top:516px;width:1px;height:5px"></i><i style="left:349px;top:419px;width:1px;height:3px"></i><i style="left:349px;top:516px;width:1px;height:2px"></i><i style="left:355px;top:419px;width:1px;height:3px"></i><i style="left:355px;top:516px;width:1px;height:2px"></i><i style="left:361px;top:419px;width:1px;height:3px"></i><i style="left:361px;top:516px;width:1px;height:2px"></i><i style="left:366px;top:416px;width:1px;height:6px"></i><i style="left:366px;top:516px;width:1px;height:5px"></i><i style="left:372px;top:419px;width:1px;height:3px"></i><i style="left:372px;top:516px;width:1px;height:2px"></i><i style="left:378px;top:419px;width:1px;height:3px"></i><i style="left:378px;top:516px;width:1px;height:2px"></i><i style="left:383px;top:419px;width:1px;height:3px"></i><i style="left:383px;top:516px;width:1px;height:2px"></i><i style="left:389px;top:416px;width:1px;height:6px"></i><i style="left:389px;top:516px;width:1px;height:5px"></i><i style="left:395px;top:419px;width:1px;height:3px"></i><i style="left:395px;top:516px;width:1px;height:2px"></i><i style="left:400px;top:419px;width:1px;height:3px"></i><i style="left:400px;top:516px;width:1px;height:2px"></i><i style="left:406px;top:419px;width:1px;height:3px"></i><i style="left:406px;top:516px;width:1px;height:2px"></i><i style="left:412px;top:416px;width:1px;height:6px"></i><i style="left:412px;top:516px;width:1px;height:5px"></i><i style="left:417px;top:419px;width:1px;height:3px"></i><i style="left:417px;top:516px;width:1px;height:2px"></i><i style="left:423px;top:419px;width:1px;height:3px"></i><i style="left:423px;top:516px;width:1px;height:2px"></i><i style="left:429px;top:419px;width:1px;height:3px"></i><i style="left:429px;top:516px;width:1px;height:2px"></i><i style="left:435px;top:416px;width:1px;height:6px"></i><i style="left:435px;top:516px;width:1px;height:5px"></i><i style="left:440px;top:419px;width:1px;height:3px"></i><i style="left:440px;top:516px;width:1px;height:2px"></i><i style="left:446px;top:419px;width:1px;height:3px"></i><i style="left:446px;top:516px;width:1px;height:2px"></i><i style="left:452px;top:419px;width:1px;height:3px"></i><i style="left:452px;top:516px;width:1px;height:2px"></i><i style="left:457px;top:416px;width:1px;height:6px"></i><i style="left:457px;top:516px;width:1px;height:5px"></i><i style="left:463px;top:419px;width:1px;height:3px"></i><i style="left:463px;top:516px;width:1px;height:2px"></i><i style="left:469px;top:419px;width:1px;height:3px"></i><i style="left:469px;top:516px;width:1px;height:2px"></i><i style="left:474px;top:419px;width:1px;height:3px"></i><i style="left:474px;top:516px;width:1px;height:2px"></i><i style="left:480px;top:416px;width:1px;height:6px"></i><i style="left:480px;top:516px;width:1px;height:5px"></i><i style="left:486px;top:419px;width:1px;height:3px"></i><i style="left:486px;top:516px;width:1px;height:2px"></i><i style="left:491px;top:419px;width:1px;height:3px"></i><i style="left:491px;top:516px;width:1px;height:2px"></i><i style="left:497px;top:419px;width:1px;height:3px"></i><i style="left:497px;top:516px;width:1px;height:2px"></i><i style="left:503px;top:416px;width:1px;height:6px"></i><i style="left:503px;top:516px;width:1px;height:5px"></i><i style="left:509px;top:419px;width:1px;height:3px"></i><i style="left:509px;top:516px;width:1px;height:2px"></i><i style="left:514px;top:419px;width:1px;height:3px"></i><i style="left:514px;top:516px;width:1px;height:2px"></i><i style="left:520px;top:419px;width:1px;height:3px"></i><i style="left:520px;top:516px;width:1px;height:2px"></i><i style="left:526px;top:416px;width:1px;height:6px"></i><i style="left:526px;top:516px;width:1px;height:5px"></i><i style="left:531px;top:419px;width:1px;height:3px"></i><i style="left:531px;top:516px;width:1px;height:2px"></i><i style="left:537px;top:419px;width:1px;height:3px"></i><i style="left:537px;top:516px;width:1px;height:2px"></i><i style="left:543px;top:419px;width:1px;height:3px"></i><i style="left:543px;top:516px;width:1px;height:2px"></i><i style="left:548px;top:416px;width:1px;height:6px"></i><i style="left:548px;top:516px;width:1px;height:5px"></i><i style="left:554px;top:419px;width:1px;height:3px"></i><i style="left:554px;top:516px;width:1px;height:2px"></i><i style="left:560px;top:419px;width:1px;height:3px"></i><i style="left:560px;top:516px;width:1px;height:2px"></i><i style="left:565px;top:419px;width:1px;height:3px"></i><i style="left:565px;top:516px;width:1px;height:2px"></i><i style="left:571px;top:416px;width:1px;height:6px"></i><i style="left:571px;top:516px;width:1px;height:5px"></i><i style="left:577px;top:419px;width:1px;height:3px"></i><i style="left:577px;top:516px;width:1px;height:2px"></i><i style="left:583px;top:419px;width:1px;height:3px"></i><i style="left:583px;top:516px;width:1px;height:2px"></i><i style="left:588px;top:419px;width:1px;height:3px"></i><i style="left:588px;top:516px;width:1px;height:2px"></i><i style="left:594px;top:416px;width:1px;height:6px"></i><i style="left:594px;top:516px;width:1px;height:5px"></i><i style="left:600px;top:419px;width:1px;height:3px"></i><i style="left:600px;top:516px;width:1px;height:2px"></i><i style="left:605px;top:419px;width:1px;height:3px"></i><i style="left:605px;top:516px;width:1px;height:2px"></i><i style="left:611px;top:419px;width:1px;height:3px"></i><i style="left:611px;top:516px;width:1px;height:2px"></i><i style="left:617px;top:416px;width:1px;height:6px"></i><i style="left:617px;top:516px;width:1px;height:5px"></i><i style="left:622px;top:419px;width:1px;height:3px"></i><i style="left:622px;top:516px;width:1px;height:2px"></i><i style="left:628px;top:419px;width:1px;height:3px"></i><i style="left:628px;top:516px;width:1px;height:2px"></i><i style="left:634px;top:419px;width:1px;height:3px"></i><i style="left:634px;top:516px;width:1px;height:2px"></i><i style="left:639px;top:416px;width:1px;height:6px"></i><i style="left:639px;top:516px;width:1px;height:5px"></i><i style="left:42px;top:422px;width:6px;height:1px"></i><i style="left:640px;top:422px;width:6px;height:1px"></i><i style="left:45px;top:432px;width:3px;height:1px"></i><i style="left:640px;top:432px;width:3px;height:1px"></i><i style="left:42px;top:443px;width:6px;height:1px"></i><i style="left:640px;top:443px;width:6px;height:1px"></i><i style="left:45px;top:453px;width:3px;height:1px"></i><i style="left:640px;top:453px;width:3px;height:1px"></i><i style="left:42px;top:463px;width:6px;height:1px"></i><i style="left:640px;top:463px;width:6px;height:1px"></i><i style="left:45px;top:474px;width:3px;height:1px"></i><i style="left:640px;top:474px;width:3px;height:1px"></i><i style="left:42px;top:484px;width:6px;height:1px"></i><i style="left:640px;top:484px;width:6px;height:1px"></i><i style="left:45px;top:494px;width:3px;height:1px"></i><i style="left:640px;top:494px;width:3px;height:1px"></i><i style="left:42px;top:504px;width:6px;height:1px"></i><i style="left:640px;top:504px;width:6px;height:1px"></i><i style="left:45px;top:515px;width:3px;height:1px"></i><i style="left:640px;top:515px;width:3px;height:1px"></i>
<svg width="674" height="558" viewBox="0 0 674 558" shape-rendering="crispEdges" fill="none" stroke-linejoin="round">
<path d="M114.2 56.1L116.4 55L119.3 55.6L121.6 54.6L123.8 53.6L126.8 53.1L129.7 52.7L132.7 52.1L134.9 50.9L136.9 49.4L138.6 50.6L140.1 49.4L142.3 50.9L146.1 51.6L149 52.1L152.7 51.8L156.7 52.1L158.9 50.6L163.4 50.9L166.3 50.2L167.8 49.4L169.3 51.2L170.8 50.9M210.5 52.1L213 52.7L215.3 54.2L218.2 55.1L222 54.8L224.2 53.6L226.4 52.4L229.4 52.7L230.9 53.9L234.6 53.9L237.5 55.1L239.8 52.7L242.7 51.6L245 50.9L247.2 49.1L248.2 48.7L250.4 49.1L254.8 49.4L257.5 50.6L259.3 49.7L263.7 50.6L267.4 49.4L270.4 49.7L271.9 48.2L272.6 47.3L275.6 47.9L280.1 47.9L284.5 47.6L286.7 49.1L290.4 50.6L294.2 50.2L296.4 49.4L298.6 49.7L300.8 52.1L303.8 53.9L306.8 54.2L309.7 55.1L312 56.5L314.9 57.6L317.2 59.5L320.1 60.1L323.8 58.6L326.1 60.5L327.8 63.5L330.5 64L332.7 65.4L335 67.2L335.7 69L336.4 64.3L337.9 62.5L338.3 68.7L344.8 68.7L346.6 66.9L350 68L353 69.9L355.2 71.7L357.4 70.9L360.4 69.6L364.1 69.9L365.6 72.4L370.1 73.5L372.3 71.7L376 70.9L380.4 70.9L383.4 71.4L387.1 70.9L390.1 69.4L393.8 69.4L397.5 69L400.5 67.5L403.4 65.7L405.7 66.5L408.6 66.5L410.9 64.6L414.6 65L418.3 64L422.7 64L424.5 64L427.4 62.8L431.1 62L434.8 60.5L437.8 60.5L440 62L442.3 60.5L446.7 61L451.2 60.5L455.6 59.8L457.1 61L459.3 59.8L463 59.8L466 61L469.7 61L471.9 62L474.2 61L478.6 60.5L482.3 58.6L484.5 60.5L486.8 61.3L489.7 61L492 63.1L494.2 62.5L495.7 65.7L497.2 62L500.1 61.6L501.6 68L503.1 65.7L505.3 63.5L507.5 61.6L510.5 62.8L513.3 64.2L516 66L518.6 63.3L521.1 62.8L523.4 65.7L524.8 62.8L527.1 65.4L529.3 67.2L530.8 61.6L533.7 62.5L536.4 59.8L538.9 64L541.9 64L543.8 60.5L544.9 64L548.9 64.6L549.8 66.9L552.3 66.5L554.5 68.4L556.7 65.7L559 66.9L561.2 65.4L562.7 66.9L565.6 65.4L567.9 64L570.1 64L571.6 65.7L573.5 66L574.8 70.2L576 66.5L578.2 65L583.5 64.7L585.4 66.2L589 66.2L590.3 64.8L593 65.5M597 67.1L600.6 67.1L601.5 64.8M603.7 66.4L605.1 67.1L605.5 63.5L607.3 61.2L608.6 63.9L609.4 66L610.4 67.1L611.3 64.8L613.1 64.8L614 62.6L615.4 63.9L616.7 61.9L618.5 60.8L619.4 58.6L619.8 55.4L621.2 55.9L622.5 57.7L622.8 62.1L624.3 62.8L625.2 63.9L626.6 63.3" stroke="#00f" stroke-width="1" transform="translate(0,-0.5)"/>
<path d="M114.2 56.1L116.4 55L119.3 55.6L121.6 54.6L123.8 53.6L126.8 53.1L129.7 52.7L132.7 52.1L134.9 50.9L136.9 49.4L138.6 50.6L140.1 49.4L142.3 50.9L146.1 51.6L149 52.1L152.7 51.8L156.7 52.1L158.9 50.6L163.4 50.9L166.3 50.2L167.8 49.4L169.3 51.2L170.8 50.9M210.5 52.1L213 52.7L215.3 54.2L218.2 55.1L222 54.8L224.2 53.6L226.4 52.4L229.4 52.7L230.9 53.9L234.6 53.9L237.5 55.1L239.8 52.7L242.7 51.6L245 50.9L247.2 49.1L248.2 48.7L250.4 49.1L254.8 49.4L257.5 50.6L259.3 49.7L263.7 50.6L267.4 49.4L270.4 49.7L271.9 48.2L272.6 47.3L275.6 47.9L280.1 47.9L284.5 47.6L286.7 49.1L290.4 50.6L294.2 50.2L296.4 49.4L298.6 49.7L300.8 52.1L303.8 53.9L306.8 54.2L309.7 55.1L312 56.5L314.9 57.6L317.2 59.5L320.1 60.1L323.8 58.6L326.1 60.5L327.8 63.5L330.5 64L332.7 65.4L335 67.2L335.7 69L336.4 64.3L337.9 62.5L338.3 68.7L344.8 68.7L346.6 66.9L350 68L353 69.9L355.2 71.7L357.4 70.9L360.4 69.6L364.1 69.9L365.6 72.4L370.1 73.5L372.3 71.7L376 70.9L380.4 70.9L383.4 71.4L387.1 70.9L390.1 69.4L393.8 69.4L397.5 69L400.5 67.5L403.4 65.7L405.7 66.5L408.6 66.5L410.9 64.6L414.6 65L418.3 64L422.7 64L424.5 64L427.4 62.8L431.1 62L434.8 60.5L437.8 60.5L440 62L442.3 60.5L446.7 61L451.2 60.5L455.6 59.8L457.1 61L459.3 59.8L463 59.8L466 61L469.7 61L471.9 62L474.2 61L478.6 60.5L482.3 58.6L484.5 60.5L486.8 61.3L489.7 61L492 63.1L494.2 62.5L495.7 65.7L497.2 62L500.1 61.6L501.6 68L503.1 65.7L505.3 63.5L507.5 61.6L510.5 62.8L513.3 64.2L516 66L518.6 63.3L521.1 62.8L523.4 65.7L524.8 62.8L527.1 65.4L529.3 67.2L530.8 61.6L533.7 62.5L536.4 59.8L538.9 64L541.9 64L543.8 60.5L544.9 64L548.9 64.6L549.8 66.9L552.3 66.5L554.5 68.4L556.7 65.7L559 66.9L561.2 65.4L562.7 66.9L565.6 65.4L567.9 64L570.1 64L571.6 65.7L573.5 66L574.8 70.2L576 66.5L578.2 65L583.5 64.7L585.4 66.2L589 66.2L590.3 64.8L593 65.5M597 67.1L600.6 67.1L601.5 64.8M603.7 66.4L605.1 67.1L605.5 63.5L607.3 61.2L608.6 63.9L609.4 66L610.4 67.1L611.3 64.8L613.1 64.8L614 62.6L615.4 63.9L616.7 61.9L618.5 60.8L619.4 58.6L619.8 55.4L621.2 55.9L622.5 57.7L622.8 62.1L624.3 62.8L625.2 63.9L626.6 63.3" stroke="#00f" stroke-width="1" transform="translate(0,0.5)"/>
<path d="M71 85h1v2h-1zM72 86h1v2h-1zM72 88h1v1h-1zM72 81h2v1h-2zM73 80h2v1h-2zM74 78h1v2h-1zM75 79h1v2h-1zM76 80h2v5h-2zM78 79h2v1h-2zM79 82h3v3h-3zM81 78h1v1h-1zM82 77h1v1h-1zM81 74h3v2h-3zM82 76h1v1h-1zM81 70h2v1h-2zM82 71h1v1h-1zM81 66h3v1h-3zM83 57h2v2h-2zM85 58h1v3h-1zM86 60h1v4h-1zM87 61h2v1h-2zM87 62h1v1h-1zM88 58h4v1h-4zM90 59h3v1h-3zM92 60h1v1h-1zM92 62h1v3h-1zM93 64h5v1h-5zM93 65h1v1h-1zM95 58h2v1h-2zM96 59h2v1h-2zM95 61h3v1h-3zM98 59h1v4h-1zM99 60h1v6h-1zM100 63h1v4h-1zM101 63h1v2h-1zM102 64h1v2h-1zM103 62h5v2h-5zM107 60h3v2h-3zM109 58h2v1h-2zM109 59h1v1h-1zM111 57h3v2h-3zM114 55h2v2h-2z" fill="#00f" stroke="none"/>
<path d="M116 54h1v1h-1zM121 54h1v1h-1zM127 52h1v1h-1zM132 51h1v1h-1zM139 49h1v1h-1zM141 49h1v1h-1zM149 51h1v1h-1zM153 51h1v1h-1zM167 49h1v1h-1zM216 54h1v1h-1zM222 54h1v1h-1zM243 50h1v1h-1zM247 48h1v1h-1zM248 48h1v1h-1zM262 49h1v1h-1zM281 47h1v1h-1zM286 48h1v1h-1zM296 48h1v1h-1zM298 49h1v1h-1zM305 53h1v1h-1zM309 54h1v1h-1zM315 57h1v1h-1zM331 64h1v1h-1zM334 66h1v1h-1zM338 68h1v1h-1zM340 68h1v1h-1zM357 70h1v1h-1zM361 69h1v1h-1zM364 70h1v1h-1zM377 70h1v1h-1zM384 70h1v1h-1zM390 68h1v1h-1zM395 68h1v1h-1zM404 65h1v1h-1zM407 65h1v1h-1zM419 63h1v1h-1zM431 61h1v1h-1zM441 60h1v1h-1zM455 59h1v1h-1zM462 59h1v1h-1zM467 60h1v1h-1zM484 59h1v1h-1zM490 61h1v1h-1zM500 62h1v1h-1zM501 67h1v1h-1zM504 63h1v1h-1zM508 61h1v1h-1zM520 62h1v1h-1zM525 63h1v1h-1zM530 62h1v1h-1zM536 59h1v1h-1zM544 62h1v1h-1zM550 66h1v1h-1zM556 65h1v1h-1zM564 65h1v1h-1zM569 63h1v1h-1zM573 65h1v1h-1zM575 67h1v1h-1zM597 66h1v1h-1zM601 64h1v1h-1zM605 63h1v1h-1zM612 64h1v1h-1zM614 62h1v1h-1zM619 57h1v1h-1zM620 55h1v1h-1zM623 61h1v1h-1zM625 63h1v1h-1zM70 83h1v1h-1zM71 83h1v1h-1zM72 84h1v1h-1zM81 83h1v1h-1zM83 75h1v1h-1zM82 69h1v1h-1zM83 67h1v1h-1zM83 61h1v1h-1zM86 59h1v1h-1zM95 57h1v1h-1zM96 57h1v1h-1zM96 60h1v1h-1zM102 63h1v1h-1zM104 62h1v1h-1zM105 62h1v1h-1zM108 60h1v1h-1zM110 57h1v1h-1zM113 57h1v1h-1z" fill="#f00" stroke="none"/>
<path d="M83.1 184.1L85.5 183.9L87.3 182.7L89.1 183.9L92 183.9L92.6 181.7L95 181.5L95.6 184.5L96.8 180.5L98 183.9L99.5 183.5L100.4 180.9L102.7 180.3L105.7 180.5L107.5 182.1L109.3 182.7L110.4 184.8L112.8 186.5L115.8 186.8L118.2 184.8L121.1 184.5L122.9 186L124.1 187.7L125.9 186.2L127.7 187.4L131.2 186.5L132.2 186.1L134.5 187.1L137.4 187.6L138.9 186.8L141.9 187.7L144.8 188L148.5 187.1L151.5 186.5L153.7 187.6L156.7 188L158.9 186.1L159.2 189.1L160.4 185.6L162.9 184.6L164.9 186.8L166.4 188.3L167.4 190.5L168.9 192L170.1 191.3M212.7 220L213.9 222.4L215.1 224.2L215.9 226.8L216.9 224.8L217.5 220.6L218.3 217.6L219.8 220.6L220.4 218.2L222.8 217L225.2 217.3L226.4 216.1M228.1 208.7L229.3 211.7L230.5 210.5L232.3 211.1L234.1 209.7M234.7 204.6L238.2 204.6L240 207L241.8 208.7L243.6 210.5L245.4 207.6L246.5 211.7L248.3 208.1L249.2 205.4L250.7 207.3L256 207.6L259 205.8L260.8 208.1L263.2 209.9L265.3 209.3L266.1 204L267.3 202.8L269.1 203.8L271.5 202.8L273.2 206.4L275.6 208.7L277.4 207L279.2 204L281 202.8L281.5 203.1L282.2 207L285.9 207.3L288.2 208.4L290.4 207L291.9 204.6L294.1 206.1L296.3 204.6L300 204.3L301.5 202.8L303.7 200.6L306 203.1L309.7 205L311.9 204.6L315.6 204L317.8 201.6L320.8 201.6L323 205L325.3 204.3L327.5 202.8L329.7 203.5L331.9 202.5L334.9 202.8L337.1 204.3L339.3 202.5L352.7 202.5L354.2 201.3L355.7 202.5L357.2 201.3L364.6 201.3L365.3 199.8L369 198.6L370.5 199.8L376.7 199.8L378.2 198.6L384.1 198.6L384.8 197.2L387.1 196.6L390 198.4L392.3 199.1L398.9 198.6L401.2 199.5L404.1 199.1L405.6 196.6L407.8 195.1L409.8 195.1L410.4 199.8L413.8 199.1L415.3 196.6L418.2 195.1L420.4 196.1L424.2 196.9L425.6 198.4L427.9 196.1L430.8 195.7L433.8 196.1L436 195.1L438.2 193.9L442 193.9L443.4 195.7L447.2 195.7L448.6 194.6L453.8 194.6L456.1 193.6L459 193.9L460.5 195.1L463.5 193.9L468.9 193.9L471.9 195.1L474.8 195.1L476.3 194.2L482.3 194.6L484.5 195.7L486.7 195.1L489.7 197.2L492.6 196.6L494.1 194.6L496.4 197.6L498.6 196.6L500.8 198.1L502.3 200.6L503.8 197.6L505.3 196.6L507.2 193.9L508.2 196.6L509.7 198.6L513.4 199.1L515.6 199.8L518.6 198.6L520.8 199.1L523.1 201.6L525 196.6L526 199.8L528.2 201L530 201.6L530.9 196.9L532.7 197.2L534.2 198.1L536.9 195.7L538.6 198.1L540.9 199.8L543.1 199.1L544.3 198.1L545.3 203.1L547.2 205L549 202.5L551.2 200.6L553.5 204.2L555 202.2L556.7 199.8L558.9 200.6L564.1 200.6L564.8 202.8L566 205.8L567.5 202.8L568.5 200.6L570.8 199.5L573 200.6L584.1 200.1L585.6 199.5L593.8 199.5L594.5 200.6L596.7 199.5L603.4 199.5L604.6 198.6L606.4 201L609.3 202.8L611.6 201.6L613.1 200.6L615.3 201.3L618.2 200.1L619.7 202.5L622 205.8L623.4 204L624.9 203.1L626.9 201.6" stroke="#00f" stroke-width="1.5"/>
<path d="M70 234h2v1h-2zM71 236h2v1h-2zM75 235h1v1h-1zM70 230h2v2h-2zM71 228h2v2h-2zM72 226h3v3h-3zM74 224h1v2h-1zM74 221h2v2h-2zM75 218h2v2h-2zM76 216h2v1h-2zM77 213h1v1h-1zM77 206h2v3h-2zM78 204h2v1h-2zM79 213h2v2h-2zM80 215h2v3h-2zM81 210h1v1h-1zM81 203h1v1h-1zM82 207h1v1h-1zM83 205h1v1h-1zM82 201h1v1h-1zM82 196h1v1h-1zM81 192h2v1h-2zM83 186h1v1h-1zM82 219h1v1h-1zM82 225h2v1h-2zM156 190h1v1h-1zM167 193h1v1h-1zM169 196h1v1h-1zM210 246h2v2h-2zM210 243h1v1h-1zM211 241h1v2h-1zM210 236h3v1h-3zM212 226h1v1h-1zM222 214h1v1h-1zM226 212h1v1h-1zM226 206h2v3h-2zM231 206h1v1h-1zM234 207h1v1h-1zM247 215h1v1h-1zM549 198h1v1h-1zM555 207h2v1h-2zM555 210h1v1h-1z" fill="#00f" stroke="none"/>
<path d="M71 352h1v1h-1zM72 351h4v1h-4zM76 350h1v1h-1zM77 346h4v1h-4zM81 347h2v1h-2zM83 348h1v1h-1zM84 349h5v1h-5zM88 348h4v1h-4zM91 349h4v1h-4zM94 348h8v1h-8zM102 349h8v1h-8zM109 348h26v1h-26zM135 347h6v1h-6zM141 348h8v1h-8zM149 349h6v1h-6zM155 348h4v1h-4zM159 349h5v1h-5zM164 348h1v1h-1zM165 347h2v1h-2zM167 348h2v1h-2zM169 349h2v1h-2zM210 348h1v1h-1zM210 349h54v1h-54zM264 348h87v1h-87zM266 349h1v1h-1zM330 349h1v1h-1zM332 349h1v1h-1zM351 349h179v1h-179zM464 348h5v1h-5zM484 350h2v1h-2zM530 348h19v1h-19zM549 349h3v1h-3zM552 348h10v1h-10zM562 347h3v1h-3zM565 350h4v1h-4zM569 349h4v1h-4zM573 350h1v1h-1zM574 351h2v1h-2zM576 349h1v1h-1zM576 350h6v1h-6zM581 351h17v1h-17zM598 350h2v1h-2zM600 349h1v1h-1zM601 347h2v1h-2zM603 348h1v1h-1zM604 349h2v1h-2zM606 348h1v1h-1zM607 346h3v1h-3zM610 349h1v1h-1zM611 350h2v1h-2zM613 351h1v1h-1zM614 350h8v1h-8zM622 349h2v1h-2z" fill="#00f" stroke="none"/>
<path d="M70 351h1v1h-1zM71 352h1v1h-1zM75 351h1v1h-1zM76 350h1v1h-1zM76 348h1v1h-1zM76 345h1v1h-1zM76 346h1v1h-1zM83 347h1v1h-1zM127 348h1v1h-1zM214 348h1v1h-1zM428 348h1v1h-1zM446 348h1v1h-1zM506 349h1v1h-1zM564 348h1v1h-1zM565 349h1v1h-1zM609 348h1v1h-1z" fill="#f0f" stroke="none"/>
</svg>
</body></html>
